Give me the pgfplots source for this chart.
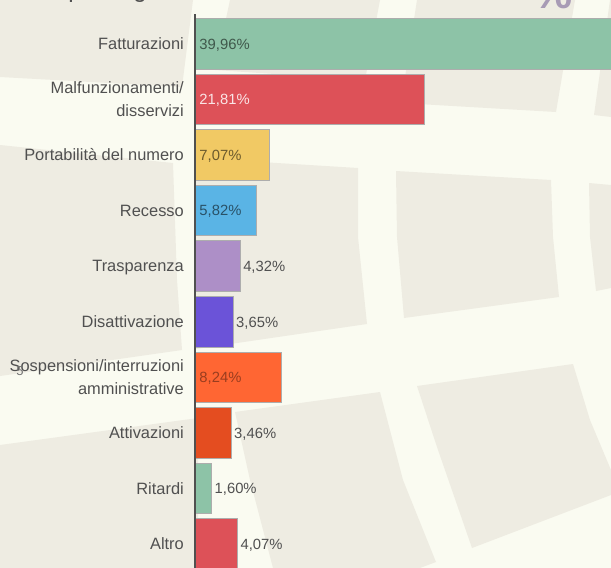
\documentclass[border=0pt]{standalone}
\usepackage{pgfplots}
\pgfplotsset{compat=1.18}
\usepackage{fontspec}
\setmainfont{Liberation Sans}
\definecolor{bgc}{HTML}{FAFBF1}
\definecolor{blk}{HTML}{EEECE2}
\definecolor{txt}{HTML}{505050}
\definecolor{cgreen}{HTML}{8DC3A7}
\definecolor{cred}{HTML}{DD5158}
\definecolor{cyel}{HTML}{F1C964}
\definecolor{cblue}{HTML}{5AB4E5}
\definecolor{cpur}{HTML}{AD8FC7}
\definecolor{cind}{HTML}{6B53D8}
\definecolor{cora}{HTML}{FF6633}
\definecolor{cdeep}{HTML}{E44D20}
\definecolor{cpct}{HTML}{A89BB5}
\begin{document}
\begin{tikzpicture}[x=1pt,y=-1pt]
\useasboundingbox (0,0) rectangle (611,568);
\clip (0,0) rectangle (611,568);
\fill[bgc] (0,0) rectangle (611,568);
\fill[blk] (0,0)--(193,0)--(182,87)--(0,77)--cycle;
\fill[blk] (230,0)--(380,0)--(365,80)--(215,70)--cycle;
\fill[blk] (417,0)--(575,0)--(556,112)--(401,103)--cycle;
\fill[blk] (610,0)--(611,0)--(611,117)--(594,115)--cycle;
\fill[blk] (0,145)--(173,163)--(177,280)--(182,350)--(0,376)--cycle;
\fill[blk] (196,158)--(358,168)--(358,237)--(367,324)--(196,349)--cycle;
\fill[blk] (396,171)--(551,180)--(553,237)--(559,297)--(404,318)--(397,237)--cycle;
\fill[blk] (589,183)--(611,185)--(611,288)--(596,291)--(590,237)--cycle;
\fill[blk] (0,445)--(198,418)--(198,568)--(0,568)--cycle;
\fill[blk] (235,412)--(380,392)--(403,480)--(436,562)--(420,568)--(273,568)--(250,480)--cycle;
\fill[blk] (417,386)--(573,364)--(590,420)--(611,470)--(611,495)--(472,548)--(437,447)--cycle;
\node[anchor=base,font=\fontsize{24}{24}\selectfont,text=txt] at (75,-3) {p};
\node[anchor=base,font=\fontsize{24}{24}\selectfont,text=txt] at (140,-3) {g};
\node[anchor=base,font=\bfseries\fontsize{44}{44}\selectfont,text=cpct] at (553,8) {\%};
\begin{axis}[
  at={(195pt,-568pt)},anchor=south west,
  scale only axis,width=416pt,height=554pt,
  xbar,bar shift=0pt,bar width=50.5pt,
  xmin=0,xmax=39.62,
  y dir=reverse,ymin=-0.534,ymax=9.43,
  axis x line=none,axis y line*=left,
  y axis line style={-,color=txt,line width=2.8pt},
  axis on top=true,
  ytick={0,...,9},
  yticklabels={Fatturazioni\strut,{Malfunzionamenti/\strut\\disservizi\strut},Portabilità del numero\strut,Recesso\strut,Trasparenza\strut,Disattivazione\strut,{Sospensioni/interruzioni\strut\\amministrative\strut},Attivazioni\strut,Ritardi\strut,Altro\strut},
  yticklabel style={align=right,inner sep=0pt,xshift=-11pt,yshift=-1.2pt,text=txt,font=\fontsize{16.4}{23}\selectfont},
  major tick length=0pt,
  every axis plot/.append style={draw=black!32,line width=0.8pt},
  nodes near coords,point meta=explicit symbolic,
  every node near coord/.append style={anchor=west,inner sep=0pt,xshift=2.5pt,yshift=-1.2pt,text=txt,font=\fontsize{14.8}{14.8}\selectfont},
]
\addplot[fill=cgreen] coordinates {(39.96,0)[]};
\addplot[fill=cred] coordinates {(21.81,1)[]};
\addplot[fill=cyel] coordinates {(7.07,2)[]};
\addplot[fill=cblue] coordinates {(5.82,3)[]};
\addplot[fill=cpur] coordinates {(4.32,4)[{4,32\%}]};
\addplot[fill=cind] coordinates {(3.65,5)[{3,65\%}]};
\addplot[fill=cora] coordinates {(8.24,6)[]};
\addplot[fill=cdeep] coordinates {(3.46,7)[{3,46\%}]};
\addplot[fill=cgreen] coordinates {(1.60,8)[{1,60\%}]};
\addplot[fill=cred] coordinates {(4.07,9)[{4,07\%}]};
\addplot[draw=none,fill=none,every node near coord/.append style={text=cgreen!45!black}] coordinates {(0.15,0)[{39,96\%}]};
\addplot[draw=none,fill=none,every node near coord/.append style={text=white!85!cred}] coordinates {(0.15,1)[{21,81\%}]};
\addplot[draw=none,fill=none,every node near coord/.append style={text=cyel!45!black}] coordinates {(0.15,2)[{7,07\%}]};
\addplot[draw=none,fill=none,every node near coord/.append style={text=cblue!45!black}] coordinates {(0.15,3)[{5,82\%}]};
\addplot[draw=none,fill=none,every node near coord/.append style={text=cora!60!black}] coordinates {(0.15,6)[{8,24\%}]};
\end{axis}
\node[anchor=center,font=\fontsize{13}{13}\selectfont,text=black!55] at (20,371) {5};
\end{tikzpicture}
\end{document}
